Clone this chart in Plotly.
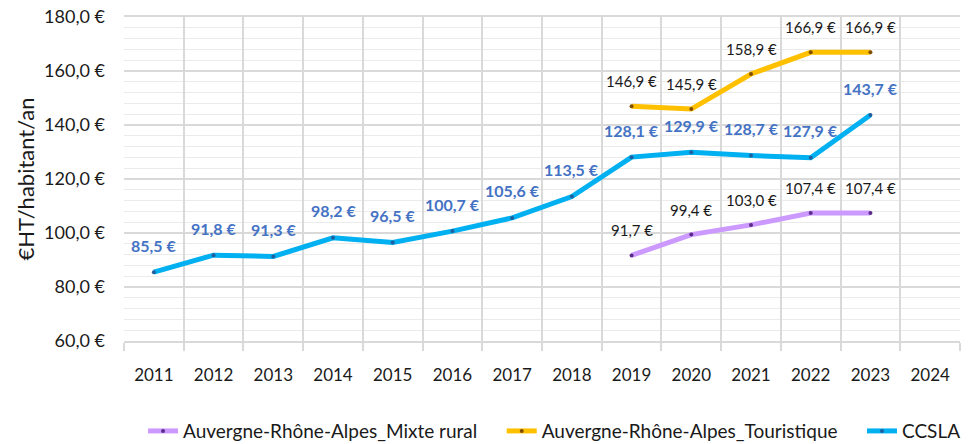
import plotly.graph_objects as go

years = ["2011", "2012", "2013", "2014", "2015", "2016", "2017", "2018",
         "2019", "2020", "2021", "2022", "2023", "2024"]
ccsla = [85.5, 91.8, 91.3, 98.2, 96.5, 100.7, 105.6, 113.5,
         128.1, 129.9, 128.7, 127.9, 143.7, None]
ara_years = ["2019", "2020", "2021", "2022", "2023"]
touristique = [146.9, 145.9, 158.9, 166.9, 166.9]
mixte_rural = [91.7, 99.4, 103.0, 107.4, 107.4]

FONT = "Lato"
PAD = "\u00a0" * 4

def fmt(v):
    return f"{v:.1f}".replace(".", ",") + " €"

fig = go.Figure()
fig.add_trace(go.Scatter(
    x=ara_years, y=mixte_rural, name="Auvergne-Rhône-Alpes_Mixte rural" + PAD,
    mode="lines+markers", line=dict(color="#CC99FF", width=5),
    marker=dict(color="#5B2C8A", size=4, symbol="circle")))
fig.add_trace(go.Scatter(
    x=ara_years, y=touristique, name="Auvergne-Rhône-Alpes_Touristique" + PAD,
    mode="lines+markers", line=dict(color="#FFC000", width=5),
    marker=dict(color="#7F4F00", size=4, symbol="circle")))
fig.add_trace(go.Scatter(
    x=years, y=ccsla, name="CCSLA",
    mode="lines+markers", line=dict(color="#00B0F0", width=5),
    marker=dict(color="#1F5FA0", size=4, symbol="circle")))

annotations = []
for x, v in zip(years, ccsla):
    if v is None:
        continue
    annotations.append(dict(x=years.index(x), y=v, text=fmt(v), showarrow=False, yshift=27,
                            font=dict(family=FONT, size=16, color="#4472C4", weight="bold")))
for x, v in zip(ara_years, touristique):
    annotations.append(dict(x=years.index(x), y=v, text=fmt(v), showarrow=False, yshift=25,
                            font=dict(family=FONT, size=15, color="#1A1A1A")))
for x, v in zip(ara_years, mixte_rural):
    annotations.append(dict(x=years.index(x), y=v, text=fmt(v), showarrow=False, yshift=25,
                            font=dict(family=FONT, size=15, color="#1A1A1A")))

# the page body has an 8px margin: the figure is sized to fit the 973x444 window
fig.update_layout(
    width=965, height=436,
    margin=dict(l=116, r=13, t=9, b=103, autoexpand=False),
    paper_bgcolor="white", plot_bgcolor="white",
    separators=", ",
    font=dict(family=FONT, size=18, color="#1A1A1A"),
    annotations=annotations,
    showlegend=True,
    legend=dict(orientation="h", x=0.515, xanchor="center",
                y=-0.278, yanchor="middle",
                font=dict(family=FONT, size=19, color="#1A1A1A"),
                itemwidth=30, tracegroupgap=0),
)
fig.update_xaxes(
    type="category", categoryorder="array", categoryarray=years,
    range=[-0.5, 13.5], tickson="boundaries", ticks="outside", ticklen=8,
    tickcolor="#D9D9D9", tickwidth=1.5,
    showgrid=True, gridcolor="#D9D9D9", gridwidth=1.5,
    showline=True, linecolor="#D9D9D9", linewidth=1.5, mirror=True,
    tickfont=dict(family=FONT, size=17, color="#1A1A1A"),
    ticklabelstandoff=18, zeroline=False, automargin=False,
)
fig.update_yaxes(
    range=[60, 180], dtick=20, tick0=60, tickformat=".1f", ticksuffix=" €",
    showgrid=True, gridcolor="#D9D9D9", gridwidth=1.5,
    minor=dict(dtick=4, showgrid=True, gridcolor="#EBEBEB", gridwidth=1),
    showline=False, zeroline=False, automargin=False,
    ticklabeloverflow="allow",
    tickfont=dict(family=FONT, size=18, color="#1A1A1A"),
    ticklabelstandoff=18,
    title=dict(text="€HT/habitant/an", font=dict(family=FONT, size=22, color="#1A1A1A"),
               standoff=3),
)

fig.write_html("out.html")
